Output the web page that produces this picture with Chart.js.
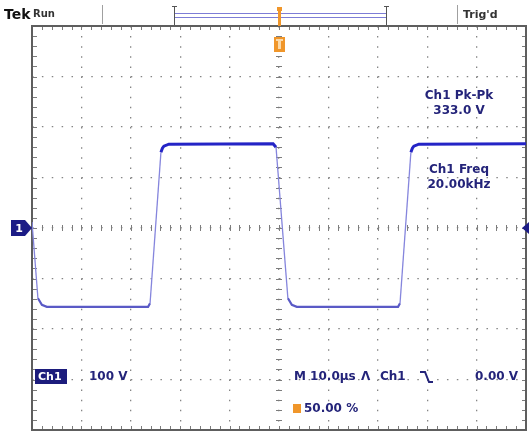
<!DOCTYPE html>
<html>
<head>
<meta charset="UTF-8">
<title>Tek Ch1 square wave</title>
<script src="https://cdn.jsdelivr.net/npm/chart.js"></script>
<style>
  html, body { margin: 0; padding: 0; background: #fff; }
  #wrap { width: 529px; height: 435px; }
</style>
</head>
<body>
<div id="wrap"><canvas id="scope"></canvas></div>
<script>
// waveform: time in µs (10 µs/div), volts (100 V/div)
const timeUs = [0, 1.2, 2.0, 3.0, 23.5, 23.9, 26.1, 26.4, 26.7, 27.7, 48.8, 49.4, 51.8, 52.6, 53.6, 74.1, 74.5, 76.7, 77.0, 77.3, 78.3, 100];
const volts  = [12, -139, -152, -156, -156, -149, 150, 158, 162, 166, 167, 160, -139, -152, -156, -156, -149, 150, 158, 162, 166, 167];

const statusLeft = 'Run';
const statusRight = "Trig'd";
const measLabels = ['Ch1 Pk-Pk', 'Ch1 Freq'];
const measValues = ['333.0 V', '20.00kHz'];
const chName = 'Ch1';
const chScale = '100 V';
const timebase = 'M 10.0µs';
const trigSrc = 'Ch1';
const trigLevel = '0.00 V';
const trigPos = '50.00 %';

const navy = '#24247a';
const orange = '#f0962a';
const FONT = '"DejaVu Sans", sans-serif';

const scopeChrome = {
    id: 'scopeChrome',
    beforeDatasetsDraw(chart) {
        const ctx = chart.ctx;
        const { left, right, top, bottom } = chart.chartArea;
        const xs = chart.scales.x, ys = chart.scales.y;
        const cx = xs.getPixelForValue(50), cy = ys.getPixelForValue(0);
        ctx.save();
        ctx.strokeStyle = '#7c7c7c';
        ctx.lineWidth = 1;
        ctx.beginPath();
        for (let v = 0; v <= 100; v += 2) {
            const px = Math.round(xs.getPixelForValue(v)) + 0.5;
            ctx.moveTo(px, top); ctx.lineTo(px, top + 4);
            ctx.moveTo(px, bottom - 4); ctx.lineTo(px, bottom);
            ctx.moveTo(px, cy - 3); ctx.lineTo(px, cy + 3);
        }
        for (let v = -400; v <= 400; v += 20) {
            const py = Math.round(ys.getPixelForValue(v)) + 0.5;
            ctx.moveTo(left, py); ctx.lineTo(left + 5, py);
            ctx.moveTo(right - 4, py); ctx.lineTo(right, py);
            ctx.moveTo(cx - 3, py); ctx.lineTo(cx + 3, py);
        }
        ctx.stroke();
        ctx.strokeStyle = '#5e5e5e';
        ctx.lineWidth = 2;
        ctx.strokeRect(left, top, right - left, bottom - top);
        ctx.restore();
    },
    afterDraw(chart) {
        const ctx = chart.ctx;
        const { top } = chart.chartArea;
        const xs = chart.scales.x, ys = chart.scales.y;
        const cx = Math.round(xs.getPixelForValue(50));
        const cy = Math.round(ys.getPixelForValue(0));
        ctx.save();

        // status bar
        ctx.textBaseline = 'middle';
        ctx.fillStyle = '#111';
        ctx.font = 'bold 14px ' + FONT;
        ctx.fillText('Tek', 4, 15);
        ctx.fillStyle = '#333';
        ctx.font = 'bold 10px ' + FONT;
        ctx.fillText(statusLeft, 33, 14);
        ctx.font = 'bold 11px ' + FONT;
        ctx.fillText(statusRight, 463, 15);
        ctx.strokeStyle = '#a0a0a0';
        ctx.lineWidth = 1;
        ctx.beginPath();
        ctx.moveTo(102.5, 5); ctx.lineTo(102.5, 24);
        ctx.moveTo(457.5, 5); ctx.lineTo(457.5, 24);
        ctx.stroke();
        // record view bar
        ctx.strokeStyle = '#7d7dd6';
        ctx.beginPath();
        ctx.moveTo(174, 13.5); ctx.lineTo(387, 13.5);
        ctx.moveTo(174, 17.5); ctx.lineTo(387, 17.5);
        ctx.stroke();
        ctx.strokeStyle = '#555';
        ctx.beginPath();
        ctx.moveTo(174.5, 6); ctx.lineTo(174.5, 25);
        ctx.moveTo(386.5, 6); ctx.lineTo(386.5, 25);
        ctx.moveTo(172, 6.5); ctx.lineTo(177, 6.5);
        ctx.moveTo(384, 6.5); ctx.lineTo(389, 6.5);
        ctx.stroke();
        // trigger position markers
        ctx.fillStyle = orange;
        ctx.fillRect(cx - 2, 7, 5, 4);
        ctx.fillRect(cx - 1, 7, 3, 19);
        ctx.fillRect(cx - 5, top + 11, 11, 15);
        ctx.fillStyle = '#fbd9a8';
        ctx.fillRect(cx - 3, top + 13, 7, 2);
        ctx.fillRect(cx - 1, top + 13, 3, 10);

        // channel 1 ground marker
        ctx.fillStyle = '#1c1c86';
        ctx.beginPath();
        ctx.moveTo(11, cy - 8); ctx.lineTo(25, cy - 8); ctx.lineTo(32, cy);
        ctx.lineTo(25, cy + 8); ctx.lineTo(11, cy + 8); ctx.closePath();
        ctx.fill();
        ctx.fillStyle = '#fff';
        ctx.font = 'bold 11px ' + FONT;
        ctx.textAlign = 'center';
        ctx.fillText('1', 19, cy + 1);
        // trigger level marker
        ctx.fillStyle = '#1c1c86';
        ctx.beginPath();
        ctx.moveTo(529, cy - 6); ctx.lineTo(522, cy); ctx.lineTo(529, cy + 6);
        ctx.closePath();
        ctx.fill();

        // measurements
        ctx.fillStyle = navy;
        ctx.font = 'bold 12px ' + FONT;
        ctx.fillText(measLabels[0], 459, 96);
        ctx.fillText(measValues[0], 459, 111);
        ctx.fillText(measLabels[1], 459, 170);
        ctx.fillText(measValues[1], 459, 185);

        // readouts
        ctx.textAlign = 'left';
        ctx.fillStyle = '#1c1c7c';
        ctx.fillRect(35, 369, 32, 15);
        ctx.fillStyle = '#fff';
        ctx.font = 'bold 11px ' + FONT;
        ctx.fillText(chName, 38, 377);
        ctx.fillStyle = navy;
        ctx.font = 'bold 12px ' + FONT;
        ctx.fillText(chScale, 89, 377);
        ctx.fillText(timebase, 294, 377);
        ctx.fillText('\u039B', 361, 377);
        ctx.fillText(trigSrc, 380, 377);
        ctx.fillText(trigLevel, 475, 377);
        ctx.strokeStyle = navy;
        ctx.lineWidth = 2;
        ctx.beginPath();
        ctx.moveTo(420, 372); ctx.lineTo(425, 372); ctx.lineTo(429, 382); ctx.lineTo(433, 382);
        ctx.stroke();
        ctx.fillStyle = orange;
        ctx.fillRect(293, 404, 8, 9);
        ctx.fillStyle = navy;
        ctx.fillText(trigPos, 304, 409);
        ctx.restore();
    }
};

function flat(c) {
    return Math.abs(c.p1.parsed.y - c.p0.parsed.y) < 15;
}

new Chart(document.getElementById('scope'), {
    type: 'line',
    data: {
        datasets: [{
            label: 'Ch1',
            data: timeUs.map((t, i) => ({ x: t, y: volts[i] })),
            borderColor: '#8585dd',
            borderWidth: 1.3,
            pointRadius: 0,
            tension: 0,
            segment: {
                borderColor: c => flat(c) ? (c.p0.parsed.y > 0 ? '#2424c6' : '#5a5ac6') : '#8585dd',
                borderWidth: c => flat(c) ? (c.p0.parsed.y > 0 ? 3 : 2.2) : 1.3
            }
        }]
    },
    options: {
        responsive: true,
        maintainAspectRatio: false,
        animation: false,
        layout: { padding: { left: 32, top: 26, right: 3, bottom: 5 } },
        plugins: { legend: { display: false }, tooltip: { enabled: false } },
        scales: {
            x: {
                type: 'linear', min: 0, max: 100,
                ticks: { display: false, stepSize: 10 },
                grid: {
                    drawTicks: false,
                    lineWidth: 1.3,
                    color: c => (c.tick.value === 0 || c.tick.value === 100) ? 'rgba(0,0,0,0)' : '#858585'
                },
                border: { display: false, dash: [1.5, 8.6] }
            },
            y: {
                min: -400, max: 400,
                ticks: { display: false, stepSize: 100 },
                grid: {
                    drawTicks: false,
                    lineWidth: 1.3,
                    color: c => (c.tick.value === -400 || c.tick.value === 400) ? 'rgba(0,0,0,0)' : '#858585'
                },
                border: { display: false, dash: [1.5, 8.38] }
            }
        }
    },
    plugins: [scopeChrome]
});
</script>
</body>
</html>
